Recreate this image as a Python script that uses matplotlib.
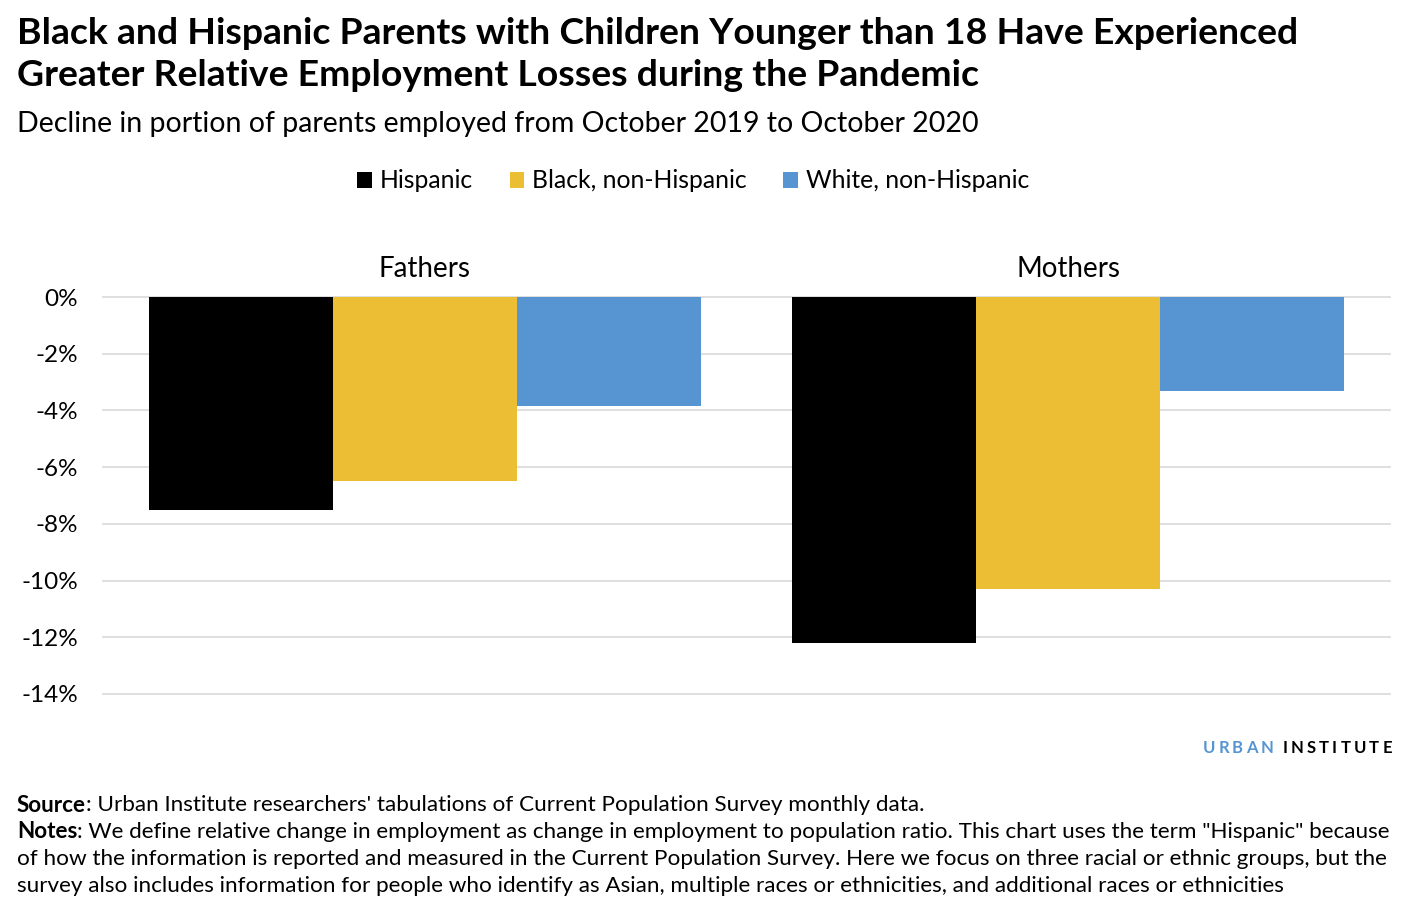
import numpy as np
import matplotlib.pyplot as plt

plt.rcParams['font.family'] = ['Lato', 'DejaVu Sans']

# data (percent change in employment-to-population ratio)
groups = ['Fathers', 'Mothers']
series = ['Hispanic', 'Black, non-Hispanic', 'White, non-Hispanic']
hispanic = [-7.5, -12.2]
black = [-6.5, -10.3]
white = [-3.85, -3.3]
colors = ['#000000', '#ECBE33', '#5695D1']
yticks = [0, -2, -4, -6, -8, -10, -12, -14]

W, H = 1408, 906
fig = plt.figure(figsize=(W / 100, H / 100), dpi=100)
ax = fig.add_axes([103 / W, (H - 694) / H, (1390 - 103) / W, (694 - 297) / H])

x = np.arange(len(groups))
bw = 0.286
for i, (vals, name) in enumerate(zip([hispanic, black, white], series)):
    ax.bar(x + (i - 1) * bw, vals, bw, color=colors[i], label=name, zorder=3)

ax.set_xlim(-0.5, 1.5)
ax.set_ylim(-14, 0)
ax.set_yticks(yticks)
ax.set_yticklabels([f'{v}%' for v in yticks], fontsize=17.5)
ax.tick_params(axis='y', length=0, pad=18)
ax.set_xticks([])
ax.grid(axis='y', color='#d9d9d9', linewidth=1.2, zorder=0)
for s in ax.spines.values():
    s.set_visible(False)
for gl in ax.get_ygridlines():
    gl.set_clip_on(False)

# group labels above bars
for xi, g in zip(x, groups):
    ax.text(xi, 1.0, g, ha='center', va='center', fontsize=20,
            transform=ax.transData, clip_on=False)

# legend
fig.legend(loc='center', bbox_to_anchor=(693 / W, (H - 181) / H), ncol=3,
           frameon=False, fontsize=17.8, handlelength=0.6, handleheight=0.6,
           handletextpad=0.3, columnspacing=1.5)

# titles
fig.text(17 / W, (H - 34) / H, 'Black and Hispanic Parents with Children Younger than 18 Have Experienced',
         fontsize=26.9, fontweight='bold', va='center')
fig.text(17 / W, (H - 76) / H, 'Greater Relative Employment Losses during the Pandemic',
         fontsize=26.9, fontweight='bold', va='center')
fig.text(17 / W, (H - 124) / H, 'Decline in portion of parents employed from October 2019 to October 2020',
         fontsize=20.5, va='center')

renderer = fig.canvas.get_renderer()

# logo with letter spacing, right aligned
logo = [('URBAN', '#5695D1'), (' ', '#000000'), ('INSTITUTE', '#000000')]
track = 3.2
chars = []
for word, c in logo:
    for ch in word:
        chars.append((ch, c))
widths = []
for ch, c in chars:
    t = fig.text(0, 0, ch if ch != ' ' else 'I', fontsize=12, fontweight='bold')
    widths.append(t.get_window_extent(renderer).width * (0.4 if ch == ' ' else 1))
    t.remove()
total = sum(widths) + track * (len(chars) - 1)
xpos = 1392 - total
for (ch, c), w in zip(chars, widths):
    if ch != ' ':
        fig.text(xpos / W, (H - 748) / H, ch, fontsize=12, fontweight='bold',
                 color=c, va='center')
    xpos += w + track

# footnotes
def note_line(y, bold, rest):
    t = fig.text(17 / W, (H - y) / H, bold, fontsize=16.2, fontweight='bold', va='center')
    if bold:
        w = t.get_window_extent(renderer).width
    else:
        w = 0
    fig.text((17 + w) / W, (H - y) / H, rest, fontsize=16.2, va='center')

note_line(805, 'Source', ": Urban Institute researchers' tabulations of Current Population Survey monthly data.")
note_line(832, 'Notes', ': We define relative change in employment as change in employment to population ratio. '
          'This chart uses the term "Hispanic" because')
note_line(859, '', 'of how the information is reported and measured in the Current Population Survey. '
          'Here we focus on three racial or ethnic groups, but the')
note_line(886, '', 'survey also includes information for people who identify as Asian, multiple races or '
          'ethnicities, and additional races or ethnicities')

fig.savefig('out.png', dpi=100)
